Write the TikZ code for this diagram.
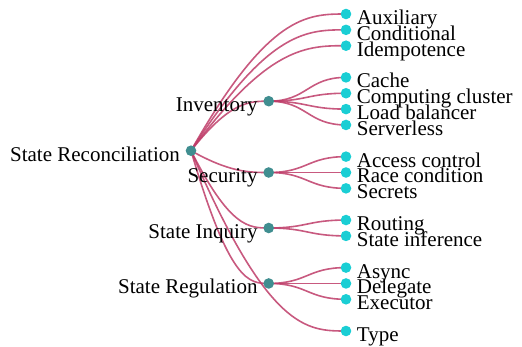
\documentclass[tikz,border=0pt]{standalone}
\usepackage{fontspec}
\setmainfont{Liberation Serif}
\usetikzlibrary{calc,backgrounds}
\definecolor{linkred}{RGB}{190,60,104}
\definecolor{innerteal}{RGB}{64,142,144}
\definecolor{leafcyan}{RGB}{26,206,212}
\tikzset{
  dot/.style={circle,inner sep=0pt,minimum size=10.6pt},
  inner/.style={dot,fill=innerteal},
  leaf/.style={dot,fill=leafcyan},
  link/.style={draw=linkred,line width=1.6pt,opacity=.85},
  txt/.style={inner sep=0pt,font=\fontsize{21}{21}\selectfont}
}

\begin{document}
\begin{tikzpicture}[x=1pt,y=-1pt]
\useasboundingbox (0,0) rectangle (522,347);
\node [inner] (root) at (191,150.7) {};
\node [txt,anchor=base east] (root-txt) at ([shift={(-11,10.5)}]root.center) {State Reconciliation};
\foreach \n/\y/\t in {inv/101.2/Inventory, sec/172.5/Security, inq/228/State Inquiry, reg/283.45/State Regulation}{
  \node [inner] (\n) at (268.7,\y) {};
  \node [txt,anchor=base east] (\n-txt) at ([shift={(-11,10.5)}]\n.center) {\t};
}
\foreach \n/\y/\t in {aux/14/Auxiliary, cond/29.85/Conditional, idem/45.7/Idempotence,
    cache/77.4/Cache, comp/93.25/Computing cluster, lb/109.1/Load balancer, srv/124.95/Serverless,
    acc/156.65/Access control, race/172.5/Race condition, secr/188.35/Secrets,
    rout/220.05/Routing, sinf/235.9/State inference,
    async/267.6/Async, deleg/283.45/Delegate, exec/299.3/Executor, type/331/Type}{
  \node [leaf] (\n) at (346,\y) {};
  \node [txt,anchor=base west] (\n-txt) at ([shift={(10.7,10.5)}]\n.center) {\t};
}
% links
\begin{scope}[on background layer]
\foreach \b in {aux, cond, idem, inv, sec, inq, reg, type}{
  \path ($(root)!.5!(\b)$) coordinate (m) ($(root)!.75!(\b)$) coordinate (q);
  \draw [link] (root.center) .. controls (m |- \b) and (q |- \b) .. (\b.center);
}
\foreach \a/\b in {inv/cache, inv/comp, inv/lb, inv/srv, sec/acc, sec/race, sec/secr,
    inq/rout, inq/sinf, reg/async, reg/deleg, reg/exec}{
  \path ($(\a)!.5!(\b)$) coordinate (m);
  \draw [link] (\a.center) .. controls (m |- \a) and (m |- \b) .. (\b.center);
}
\end{scope}
\end{tikzpicture}
\end{document}
